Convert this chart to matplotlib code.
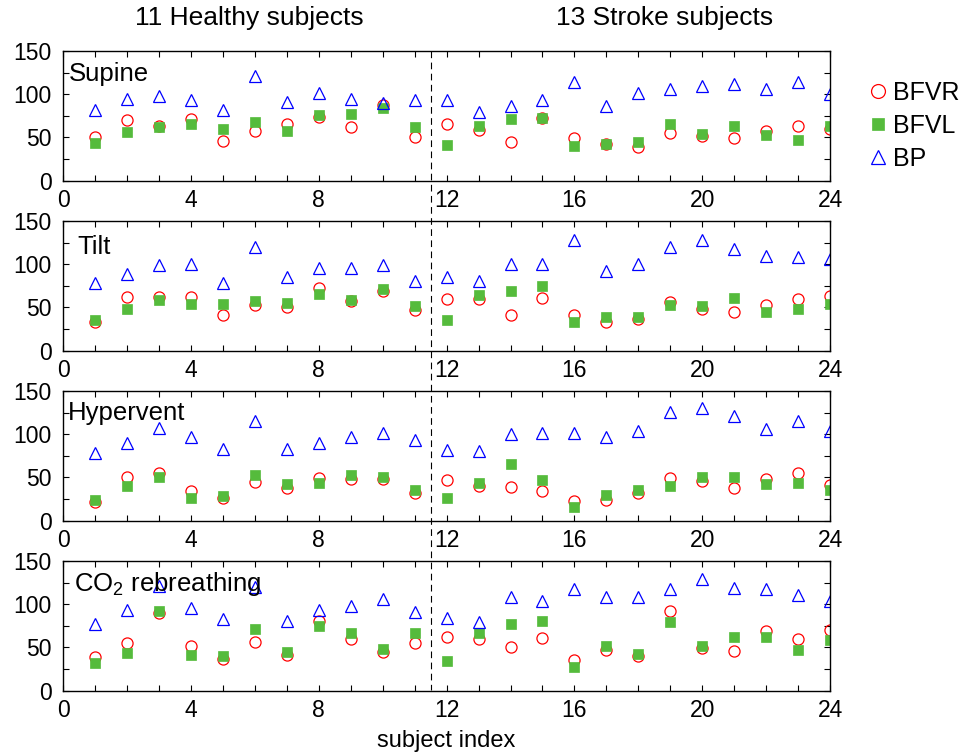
import numpy as np
import matplotlib.pyplot as plt
from matplotlib.lines import Line2D
from matplotlib.transforms import blended_transform_factory

plt.rcParams['font.family'] = ['Liberation Sans', 'DejaVu Sans']
plt.rcParams['mathtext.default'] = 'regular'

subjects = np.arange(1, 25)

# supine
supine_bfvr = [50, 70.6, 63, 71, 46, 57, 66, 74, 62.5, 87, 50, 65.6, 58.6, 45, 73, 49.7, 42.4, 39.3, 54.8, 51.7, 49.7, 57.5, 63, 60]
supine_bfvl = [43.6, 56.7, 62, 65, 60, 67.5, 58, 76, 77, 84, 62, 41.3, 63.6, 71, 72, 40, 42.8, 45, 65, 53.6, 63, 52.4, 47, 63.6]
supine_bp = [81.8, 94, 98, 93, 82, 121.5, 90.6, 102, 95, 89.5, 93, 93.3, 79, 86, 93.3, 113.8, 86.4, 102, 106, 109.5, 111.8, 106, 114, 100]

# tilt
tilt_bfvr = [33, 61.7, 62.5, 61.7, 41, 52.4, 51, 73, 57.5, 68.6, 47.4, 59.4, 59.4, 41.3, 61.3, 41.3, 33, 36.2, 56.3, 48.6, 44.7, 53.2, 59.4, 63.2]
tilt_bfvl = [35, 48, 58.6, 54.4, 53.6, 57.5, 55, 66, 58.6, 71, 51.7, 35.5, 64, 69, 74.8, 32.8, 38.6, 39.3, 52.4, 51.7, 60.5, 44.3, 47.8, 54]
tilt_bp = [78.7, 89, 99.5, 100, 78.7, 120, 85.6, 96, 96, 99.5, 81, 84.8, 80.6, 100, 100, 128, 92.6, 100, 119.5, 127.6, 117.6, 109, 108.8, 105.7]

# hyperventilation
hyper_bfvr = [22, 50, 55, 34.3, 26.6, 44.7, 38.2, 49.4, 48.2, 48.2, 31.6, 46.7, 39.7, 38.6, 34, 22.4, 24.3, 31.6, 49, 46.3, 37.8, 47.8, 55.5, 41.6]
hyper_bfvl = [23.5, 39.7, 50, 26.2, 28, 52.8, 42, 44, 53.2, 50, 35, 26.2, 43.6, 65.6, 47, 15.4, 30, 35.5, 40.5, 50, 50, 42.8, 44, 35]
hyper_bp = [78.7, 90, 106.8, 97, 83, 115.7, 82.5, 89.5, 97, 101, 93.3, 81.4, 80.6, 100, 102, 101.8, 97, 103.7, 125.3, 130, 121.5, 105.7, 115.7, 103.7]

# CO2 rebreathing
co2_bfvr = [38.6, 55.5, 89.5, 52, 36.6, 56, 41.3, 81, 59.4, 45, 55.5, 62, 59.8, 50.5, 61, 35, 47.4, 40, 91.8, 49.7, 45.5, 69.4, 59.8, 70.2]
co2_bfvl = [32, 44, 92.6, 41.6, 40, 71.3, 45, 75.2, 66.7, 47.8, 66.3, 34.7, 67, 77, 80.6, 27.8, 52, 42.4, 79.4, 52, 62, 61.7, 47.4, 59]
co2_bp = [77, 93, 121.5, 96, 82.5, 119.5, 81, 93.7, 98, 106, 91, 83.7, 79.4, 108, 103.7, 117.2, 108.4, 108, 117.2, 129.6, 119, 117.2, 110.3, 103.7]

panel_names = ['Supine', 'Tilt', 'Hypervent', 'CO$_2$ rebreathing']
panel_data = [(supine_bfvr, supine_bfvl, supine_bp),
              (tilt_bfvr, tilt_bfvl, tilt_bp),
              (hyper_bfvr, hyper_bfvl, hyper_bp),
              (co2_bfvr, co2_bfvl, co2_bp)]
label_pos = [(0.007, 0.771), (0.018, 0.746), (0.006, 0.776), (0.014, 0.766)]

W, H = 966, 752
fig = plt.figure(figsize=(W/100, H/100), dpi=100)

axes = []
for i in range(4):
    top = 51 + 170*i
    ax = fig.add_axes([63.3/W, 1 - (top + 129.7)/H, (830 - 63.3)/W, 129.7/H])
    bfvr, bfvl, bp = panel_data[i]
    h1, = ax.plot(subjects, bfvr, 'o', ms=8, mfc='none', mec='#ff0000', mew=0.9, label='BFVR')
    h2, = ax.plot(subjects, bfvl, 's', ms=6.5, mfc='#55bb3c', mec='#55bb3c', mew=0.5, label='BFVL')
    h3, = ax.plot(subjects, bp, '^', ms=8, mfc='none', mec='#0000ff', mew=0.9, label='BP')
    ax.set_xlim(0, 24)
    ax.set_ylim(0, 150)
    ax.set_xticks(range(0, 25, 4))
    ax.set_xticks(range(25), minor=True)
    ax.set_yticks([0, 50, 100, 150])
    ax.set_yticks([25, 75, 125], minor=True)
    ax.tick_params(which='both', direction='in', top=True, right=True, length=4, width=0.8, labelsize=16.5)
    ax.tick_params(axis='x', pad=6)
    ax.tick_params(axis='y', pad=8.5)
    for s in ax.spines.values():
        s.set_linewidth(1.0)
    ax.text(label_pos[i][0], label_pos[i][1], panel_names[i], transform=ax.transAxes,
            fontsize=18.5, va='baseline', ha='left')
    axes.append(ax)

axes[-1].set_xlabel('subject index', fontsize=17, labelpad=6)

# boundary between healthy and stroke groups
trans = blended_transform_factory(axes[0].transData, fig.transFigure)
fig.add_artist(Line2D([11.5, 11.5], [1 - 51/H, 1 - 690/H], transform=trans,
                      color='k', lw=0.8, dashes=(6, 4)))

fig.text(135/W, 1 - 18/H, '11 Healthy subjects', fontsize=19, va='center', ha='left')
fig.text(665/W, 1 - 18/H, '13 Stroke subjects', fontsize=19, va='center', ha='center')

fig.legend([h1, h2, h3], ['BFVR', 'BFVL', 'BP'], loc='upper left',
           bbox_to_anchor=(869/W, 1 - 81/H), frameon=False, fontsize=18,
           markerscale=1.25, handlelength=0.7, handletextpad=0.25, labelspacing=0.35,
           borderpad=0, borderaxespad=0)

fig.savefig('out.png', dpi=100)
